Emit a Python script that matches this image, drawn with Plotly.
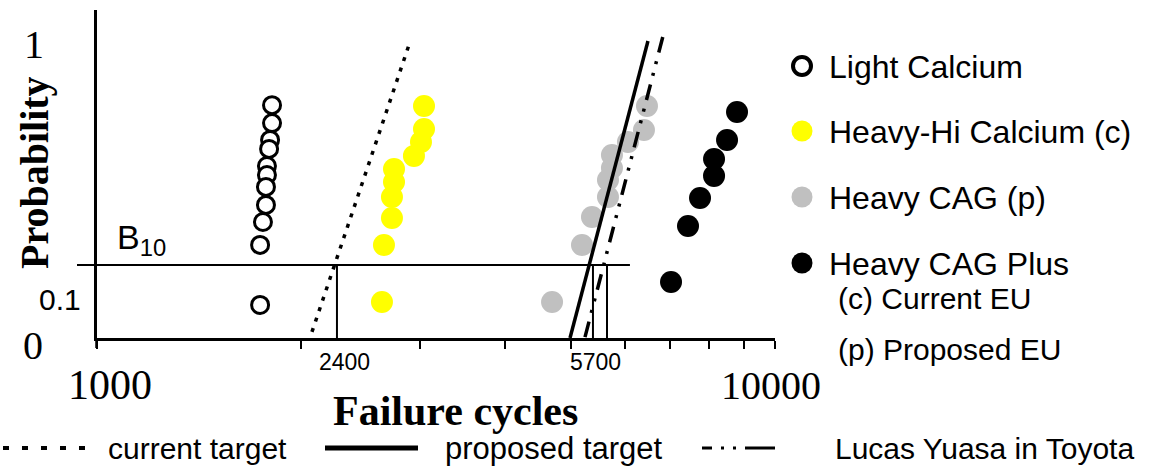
import math
import plotly.graph_objects as go

W, H = 1155, 470

# ---------------- data ----------------
light_calcium_cycles = [1812, 1812, 1800, 1794, 1781, 1781, 1775, 1775, 1757, 1740, 1740]
light_calcium_prob = [0.803, 0.741, 0.683, 0.652, 0.593, 0.562, 0.521, 0.459, 0.400, 0.321, 0.114]

heavy_hi_ca_cycles = [3036, 3036, 3005, 2934, 2742, 2742, 2723, 2723, 2650, 2632]
heavy_hi_ca_prob = [0.800, 0.721, 0.676, 0.628, 0.583, 0.538, 0.486, 0.414, 0.321, 0.124]

heavy_cag_cycles = [6474, 6408, 6069, 5748, 5748, 5671, 5671, 5371, 5192, 4690]
heavy_cag_prob = [0.800, 0.717, 0.676, 0.631, 0.586, 0.545, 0.486, 0.417, 0.321, 0.124]

heavy_cag_plus_cycles = [8790, 8497, 8130, 8130, 7752, 7442, 7025]
heavy_cag_plus_prob = [0.779, 0.683, 0.617, 0.559, 0.483, 0.386, 0.193]

current_target_cycles = [2075, 2895]
current_target_prob = [0.021, 1.021]
proposed_target_cycles = [4985, 6496]
proposed_target_prob = [0.0, 1.024]
lucas_yuasa_cycles = [5245, 6836]
lucas_yuasa_prob = [0.003, 1.041]

b10_level = 0.252
b10_cycles = [2259, 5389, 5652]
b10_line_end = 6110

x_tick_values = [1000, 2000, 3000, 4000, 5000, 6000, 7000, 8000, 9000, 10000]
x_tick_labels = ["1000", "10000"]
b10_tick_labels = ["2400", "5700"]
y_tick_labels = ["1", "0.1", "0"]

series_names = ["Light Calcium", "Heavy-Hi Calcium (c)", "Heavy CAG (p)", "Heavy CAG Plus"]
line_names = ["current target", "proposed target", "Lucas Yuasa in Toyota"]
notes = ["(c) Current EU", "(p) Proposed EU"]

# ---------------- layout geometry ----------------
X_L, X_R = 97, 775          # pixel span of x axis (1000 .. 10000)
Y_B, Y_T = 338, 10          # pixel span of y axis
Y_MAX = (Y_B - Y_T) / 290.0

SANS = "Liberation Sans, Arial, sans-serif"
SERIF = "Liberation Serif, Times New Roman, serif"


def pxp(px):
    return px / W


def pyp(py):
    return 1 - py / H


def data_px(v):
    return X_L + (X_R - X_L) * math.log10(v / 1000.0)


def data_py(p):
    return Y_B - p * 290.0


fig = go.Figure()

# ---------------- data points ----------------
fig.add_trace(go.Scatter(
    x=light_calcium_cycles, y=light_calcium_prob, mode="markers", name=series_names[0],
    marker=dict(symbol="circle", size=17, color="white", line=dict(color="black", width=3)),
    showlegend=False))
fig.add_trace(go.Scatter(
    x=heavy_hi_ca_cycles, y=heavy_hi_ca_prob, mode="markers", name=series_names[1],
    marker=dict(symbol="circle", size=22, color="#FFFF00", line=dict(width=0)),
    showlegend=False))
fig.add_trace(go.Scatter(
    x=heavy_cag_cycles, y=heavy_cag_prob, mode="markers", name=series_names[2],
    marker=dict(symbol="circle", size=22, color="#C0C0C0", line=dict(width=0)),
    showlegend=False))
fig.add_trace(go.Scatter(
    x=heavy_cag_plus_cycles, y=heavy_cag_plus_prob, mode="markers", name=series_names[3],
    marker=dict(symbol="circle", size=22, color="black", line=dict(width=0)),
    showlegend=False))

# ---------------- target lines ----------------
fig.add_trace(go.Scatter(
    x=current_target_cycles, y=current_target_prob, mode="lines", name=line_names[0],
    line=dict(color="black", width=3.5, dash="4px,7px"), showlegend=False))
fig.add_trace(go.Scatter(
    x=proposed_target_cycles, y=proposed_target_prob, mode="lines", name=line_names[1],
    line=dict(color="black", width=3.5), showlegend=False))
fig.add_trace(go.Scatter(
    x=lucas_yuasa_cycles, y=lucas_yuasa_prob, mode="lines", name=line_names[2],
    line=dict(color="black", width=3.5, dash="16px,9px,3px,9px,3px,9px"), showlegend=False))

# B10 drop lines
bx, by = [], []
for c in b10_cycles:
    bx += [c, c, None]
    by += [0, b10_level, None]
fig.add_trace(go.Scatter(x=bx, y=by, mode="lines", line=dict(color="black", width=2),
                         showlegend=False, hoverinfo="skip"))

shapes = []
# B10 horizontal line (extends left of the axis)
shapes.append(dict(type="line", xref="paper", yref="paper",
                   x0=pxp(77), x1=pxp(data_px(b10_line_end)),
                   y0=pyp(data_py(b10_level)), y1=pyp(data_py(b10_level)),
                   line=dict(color="black", width=2)))
# y axis extension below x axis
shapes.append(dict(type="line", xref="paper", yref="paper",
                   x0=pxp(X_L - 0.5), x1=pxp(X_L - 0.5), y0=pyp(Y_B), y1=pyp(348),
                   line=dict(color="black", width=2.5)))

# legend markers (right)
leg_y = [66, 131, 197, 263]
leg_fill = ["white", "#FFFF00", "#C0C0C0", "black"]
for i, (yy, fc) in enumerate(zip(leg_y, leg_fill)):
    r = 10.5 if i else 9
    lw = 4 if i == 0 else 0
    shapes.append(dict(type="circle", xref="paper", yref="paper",
                       x0=pxp(802 - r), x1=pxp(802 + r), y0=pyp(yy - r), y1=pyp(yy + r),
                       fillcolor=fc, line=dict(color="black", width=lw)))

# legend line samples (bottom)
LY = 448
shapes.append(dict(type="line", xref="paper", yref="paper", x0=pxp(3), x1=pxp(97),
                   y0=pyp(LY), y1=pyp(LY), line=dict(color="black", width=4, dash="6px,13px")))
shapes.append(dict(type="line", xref="paper", yref="paper", x0=pxp(325), x1=pxp(418),
                   y0=pyp(LY), y1=pyp(LY), line=dict(color="black", width=5)))
shapes.append(dict(type="line", xref="paper", yref="paper", x0=pxp(702), x1=pxp(776),
                   y0=pyp(LY), y1=pyp(LY),
                   line=dict(color="black", width=3, dash="10px,9px,3px,9px,3px,9px,30px")))

ann = []


def text(t, x, y, font, size, xanchor="center", yanchor="middle", bold=False, angle=0):
    ann.append(dict(text=("<b>%s</b>" % t) if bold else t, x=pxp(x), y=pyp(y),
                    xref="paper", yref="paper", xanchor=xanchor, yanchor=yanchor,
                    showarrow=False, textangle=angle,
                    font=dict(family=font, size=size, color="black")))


for name, yy in zip(series_names, leg_y):
    text(name, 827, yy + 1, SANS, 32, xanchor="left")
text(notes[0], 836, 298, SANS, 30, xanchor="left")
text(notes[1], 836, 349, SANS, 30, xanchor="left")

text(line_names[0], 106, LY, SANS, 30, xanchor="left")
text(line_names[1], 443, LY, SANS, 31, xanchor="left")
text(line_names[2], 833, LY, SANS, 30, xanchor="left")

text("Probability", 35, 173, SERIF, 40, bold=True, angle=-90)
text("Failure cycles", 455, 411, SERIF, 42, bold=True)

text(y_tick_labels[0], 34, 45, SERIF, 40)
text(y_tick_labels[1], 60, 299, SANS, 30)
text(y_tick_labels[2], 33, 345, SERIF, 40)
text("B<sub>10</sub>", 115, 240, SANS, 34, xanchor="left")

text(x_tick_labels[0], 110, 385, SERIF, 42)
text(x_tick_labels[1], 771, 385, SERIF, 40)
text(b10_tick_labels[0], 344, 362, SANS, 23)
text(b10_tick_labels[1], 595, 362, SANS, 23)

fig.update_layout(
    width=W, height=H,
    margin=dict(l=0, r=0, t=0, b=0, pad=0),
    paper_bgcolor="white", plot_bgcolor="rgba(0,0,0,0)",
    showlegend=False,
    shapes=shapes, annotations=ann,
    xaxis=dict(type="log", range=[3, 4], domain=[X_L / W, X_R / W],
               showline=True, linecolor="black", linewidth=2.5,
               ticks="outside", ticklen=8, tickwidth=2, tickcolor="black",
               tickvals=x_tick_values, showticklabels=False,
               showgrid=False, zeroline=False, fixedrange=True),
    yaxis=dict(range=[0, Y_MAX], domain=[1 - Y_B / H, 1 - Y_T / H],
               showline=True, linecolor="black", linewidth=2.5,
               ticks="", showticklabels=False,
               showgrid=False, zeroline=False, fixedrange=True),
)

fig.write_html("out.html")
